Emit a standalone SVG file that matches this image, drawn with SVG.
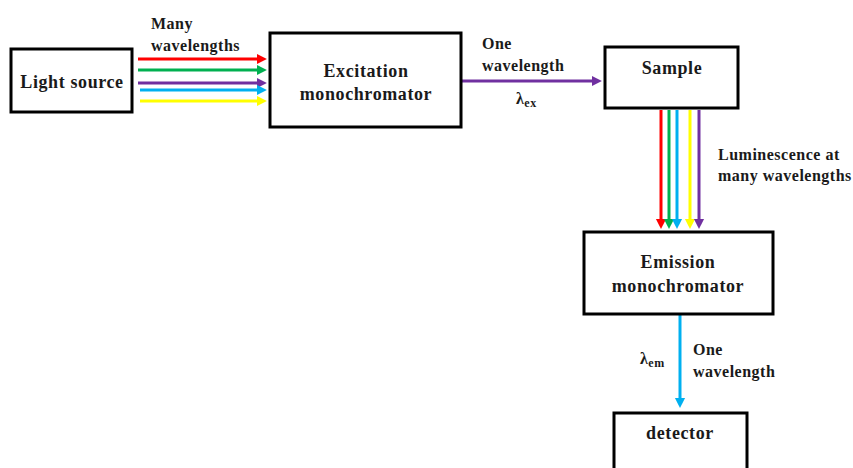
<svg xmlns="http://www.w3.org/2000/svg" width="853" height="468" viewBox="0 0 853 468">
<style>
.box{fill:#fff;stroke:#000;stroke-width:3}
.t{font-family:"Liberation Serif","Times New Roman",serif;font-weight:bold;font-size:18px;letter-spacing:0.6px;fill:#1a1a1a}
.s{font-family:"Liberation Serif","Times New Roman",serif;font-weight:bold;font-size:16px;letter-spacing:0.5px;fill:#1a1a1a}
.a{stroke-width:3;fill:none}
</style>
<defs>
<marker id="mr" markerWidth="4" markerHeight="4" refX="2" refY="2" orient="auto" markerUnits="strokeWidth"><path d="M0,0.3 L3.3,2 L0,3.7z" fill="#FF0000"/></marker>
<marker id="mg" markerWidth="4" markerHeight="4" refX="2" refY="2" orient="auto" markerUnits="strokeWidth"><path d="M0,0.3 L3.3,2 L0,3.7z" fill="#00B050"/></marker>
<marker id="mp" markerWidth="4" markerHeight="4" refX="2" refY="2" orient="auto" markerUnits="strokeWidth"><path d="M0,0.3 L3.3,2 L0,3.7z" fill="#7030A0"/></marker>
<marker id="mb" markerWidth="4" markerHeight="4" refX="2" refY="2" orient="auto" markerUnits="strokeWidth"><path d="M0,0.3 L3.3,2 L0,3.7z" fill="#00B0F0"/></marker>
<marker id="my" markerWidth="4" markerHeight="4" refX="2" refY="2" orient="auto" markerUnits="strokeWidth"><path d="M0,0.3 L3.3,2 L0,3.7z" fill="#FFFF00"/></marker>
</defs>
<rect width="853" height="468" fill="#fff"/>
<g id="connectors">
<line class="a" x1="138" y1="59" x2="263" y2="59" stroke="#FF0000" marker-end="url(#mr)"/>
<line class="a" x1="138" y1="70" x2="263" y2="70" stroke="#00B050" marker-end="url(#mg)"/>
<line class="a" x1="138" y1="83" x2="263" y2="83" stroke="#7030A0" marker-end="url(#mp)"/>
<line class="a" x1="140" y1="90" x2="263" y2="90" stroke="#00B0F0" marker-end="url(#mb)"/>
<line class="a" x1="140" y1="101" x2="263" y2="101" stroke="#FFFF00" marker-end="url(#my)"/>
<line class="a" x1="462" y1="81" x2="598" y2="81" stroke="#7030A0" marker-end="url(#mp)"/>
<line class="a" x1="661" y1="110" x2="661" y2="225" stroke="#FF0000" marker-end="url(#mr)"/>
<line class="a" x1="669" y1="110" x2="669" y2="225" stroke="#00B050" marker-end="url(#mg)"/>
<line class="a" x1="677" y1="110" x2="677" y2="225" stroke="#00B0F0" marker-end="url(#mb)"/>
<line class="a" x1="690" y1="110" x2="690" y2="225" stroke="#FFFF00" marker-end="url(#my)"/>
<line class="a" x1="699" y1="110" x2="699" y2="225" stroke="#7030A0" marker-end="url(#mp)"/>
<line class="a" x1="680" y1="315" x2="680" y2="404" stroke="#00B0F0" marker-end="url(#mb)"/>
</g>
<g id="light-source">
<rect class="box" x="11" y="49" width="121" height="63"/>
<text class="t" x="72" y="88" text-anchor="middle">Light source</text>
</g>
<g id="excitation">
<rect class="box" x="270" y="33" width="191" height="94"/>
<text class="t" x="366" y="77" text-anchor="middle">Excitation</text>
<text class="t" x="366" y="100" text-anchor="middle">monochromator</text>
</g>
<g id="sample">
<rect class="box" x="605" y="47" width="133" height="61"/>
<text class="t" x="672" y="74" text-anchor="middle">Sample</text>
</g>
<g id="emission">
<rect class="box" x="584" y="232" width="189" height="82"/>
<text class="t" x="678" y="268" text-anchor="middle">Emission</text>
<text class="t" x="678" y="292" text-anchor="middle">monochromator</text>
</g>
<g id="detector">
<rect class="box" x="614" y="413" width="133" height="70"/>
<text class="t" x="680" y="439" text-anchor="middle">detector</text>
</g>
<g id="labels">
<text class="s" x="151" y="29">Many</text>
<text class="s" x="151" y="51">wavelengths</text>
<text class="s" x="482" y="49">One</text>
<text class="s" x="482" y="71">wavelength</text>
<text class="s" x="516" y="104" font-size="18">λ<tspan font-size="12" dy="3">ex</tspan></text>
<text class="s" x="718" y="160">Luminescence at</text>
<text class="s" x="718" y="181">many wavelengths</text>
<text class="s" x="640" y="364" font-size="18">λ<tspan font-size="12" dy="3">em</tspan></text>
<text class="s" x="693" y="355">One</text>
<text class="s" x="693" y="377">wavelength</text>
</g>
</svg>
